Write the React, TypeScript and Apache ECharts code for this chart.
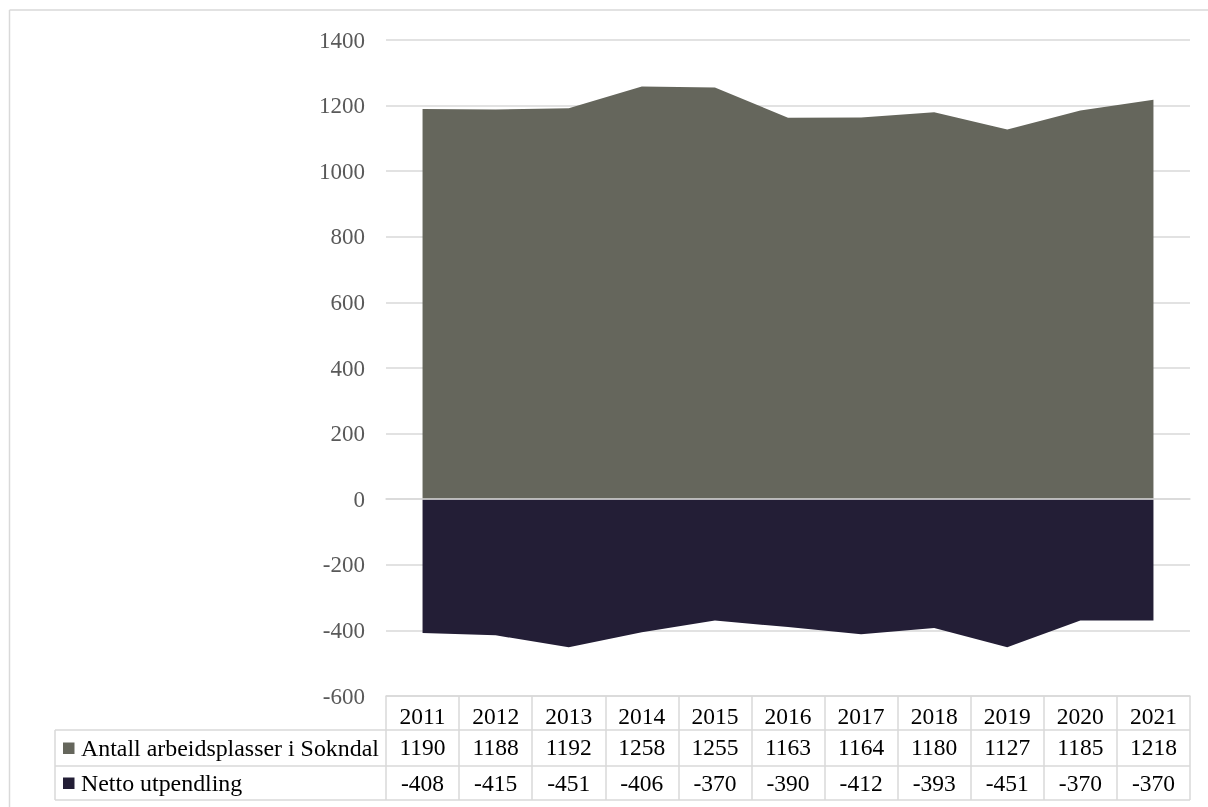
import React, { useEffect, useRef } from "react";
import * as echarts from "echarts";

const years = ["2011", "2012", "2013", "2014", "2015", "2016", "2017", "2018", "2019", "2020", "2021"];
const antall = [1190, 1188, 1192, 1258, 1255, 1163, 1164, 1180, 1127, 1185, 1218];
const netto = [-408, -415, -451, -406, -370, -390, -412, -393, -451, -370, -370];
const seriesNames = ["Antall arbeidsplasser i Sokndal", "Netto utpendling"];
const seriesColors = ["#65665c", "#231e36"];

const FONT = '"Liberation Serif", "Times New Roman", serif';
const FS = 23.5;
const GRID_COLOR = "#d9d9d9";

export default function App() {
  const ref = useRef<HTMLDivElement>(null);
  useEffect(() => {
    if (!ref.current) return;
    const chart = echarts.init(ref.current, null, { renderer: "svg" });
    const rowLine = (x1: number, y1: number, x2: number, y2: number) => ({
      type: "line",
      silent: true,
      shape: { x1, y1, x2, y2 },
      style: { stroke: GRID_COLOR, lineWidth: 1.5 },
    });
    const rowCenters = [748, 783];
    const legendItems: any[] = [];
    seriesNames.forEach((name, i) => {
      legendItems.push({
        type: "rect",
        silent: true,
        shape: { x: 63, y: rowCenters[i] - 5.5, width: 11.5, height: 11.5 },
        style: { fill: seriesColors[i] },
      });
      legendItems.push({
        type: "text",
        silent: true,
        x: 81,
        y: rowCenters[i],
        style: { text: name, fill: "#000", font: `${FS + 0.4}px ${FONT}`, verticalAlign: "middle", align: "left" },
      });
    });
    const baseAxis = {
      type: "category",
      data: years,
      boundaryGap: true,
      position: "bottom",
      axisLine: { show: false },
      axisTick: { show: false },
      splitLine: { show: false },
    };
    const lab = { interval: 0, fontSize: FS, lineHeight: FS, color: "#000", fontFamily: FONT };
    chart.setOption({
      animation: false,
      textStyle: { fontFamily: FONT },
      grid: { left: 386, top: 40, width: 804, height: 656, containLabel: false, outerBoundsMode: "none" },
      xAxis: [
        {
          ...baseAxis,
          z: 10,
          axisLine: { show: true, onZero: true, lineStyle: { color: GRID_COLOR, width: 1.5 } },
          axisLabel: { show: false },
        },
        {
          ...baseAxis,
          axisLine: { show: true, onZero: false, lineStyle: { color: GRID_COLOR, width: 1.5 } },
          axisTick: { show: true, interval: 0, length: 104, lineStyle: { color: GRID_COLOR, width: 1.5 } },
          axisLabel: { ...lab, margin: 8 },
        },
        {
          ...baseAxis,
          offset: 34,
          axisLabel: { ...lab, margin: 5, formatter: (_v: string, i: number) => String(antall[i]) },
        },
        {
          ...baseAxis,
          offset: 70,
          axisLabel: { ...lab, margin: 5, formatter: (_v: string, i: number) => String(netto[i]) },
        },
      ],
      yAxis: {
        type: "value",
        min: -600,
        max: 1400,
        interval: 200,
        axisLine: { show: false },
        axisTick: { show: false },
        axisLabel: {
          margin: 21, fontSize: 23, color: "#595959", fontFamily: FONT,
          formatter: (v: number) => String(v),
        },
        splitLine: { lineStyle: { color: GRID_COLOR, width: 1.5 } },
      },
      series: [
        {
          name: seriesNames[0],
          type: "line",
          xAxisIndex: 0,
          data: antall,
          symbol: "none",
          lineStyle: { width: 0 },
          areaStyle: { color: seriesColors[0], opacity: 1 },
          itemStyle: { color: seriesColors[0] },
        },
        {
          name: seriesNames[1],
          type: "line",
          xAxisIndex: 0,
          data: netto,
          symbol: "none",
          lineStyle: { width: 0 },
          areaStyle: { color: seriesColors[1], opacity: 1 },
          itemStyle: { color: seriesColors[1] },
        },
      ],
      graphic: [
        rowLine(9.5, 10, 1208, 10),
        rowLine(9.5, 10, 9.5, 807),
        rowLine(55, 730, 1190, 730),
        rowLine(55, 766, 1190, 766),
        rowLine(55, 800, 1190, 800),
        rowLine(55, 730, 55, 800),
        ...legendItems,
      ],
    });
    return () => chart.dispose();
  }, []);
  return <div ref={ref} style={{ position: "fixed", left: 0, top: 0, width: 1208, height: 807 }} />;
}
